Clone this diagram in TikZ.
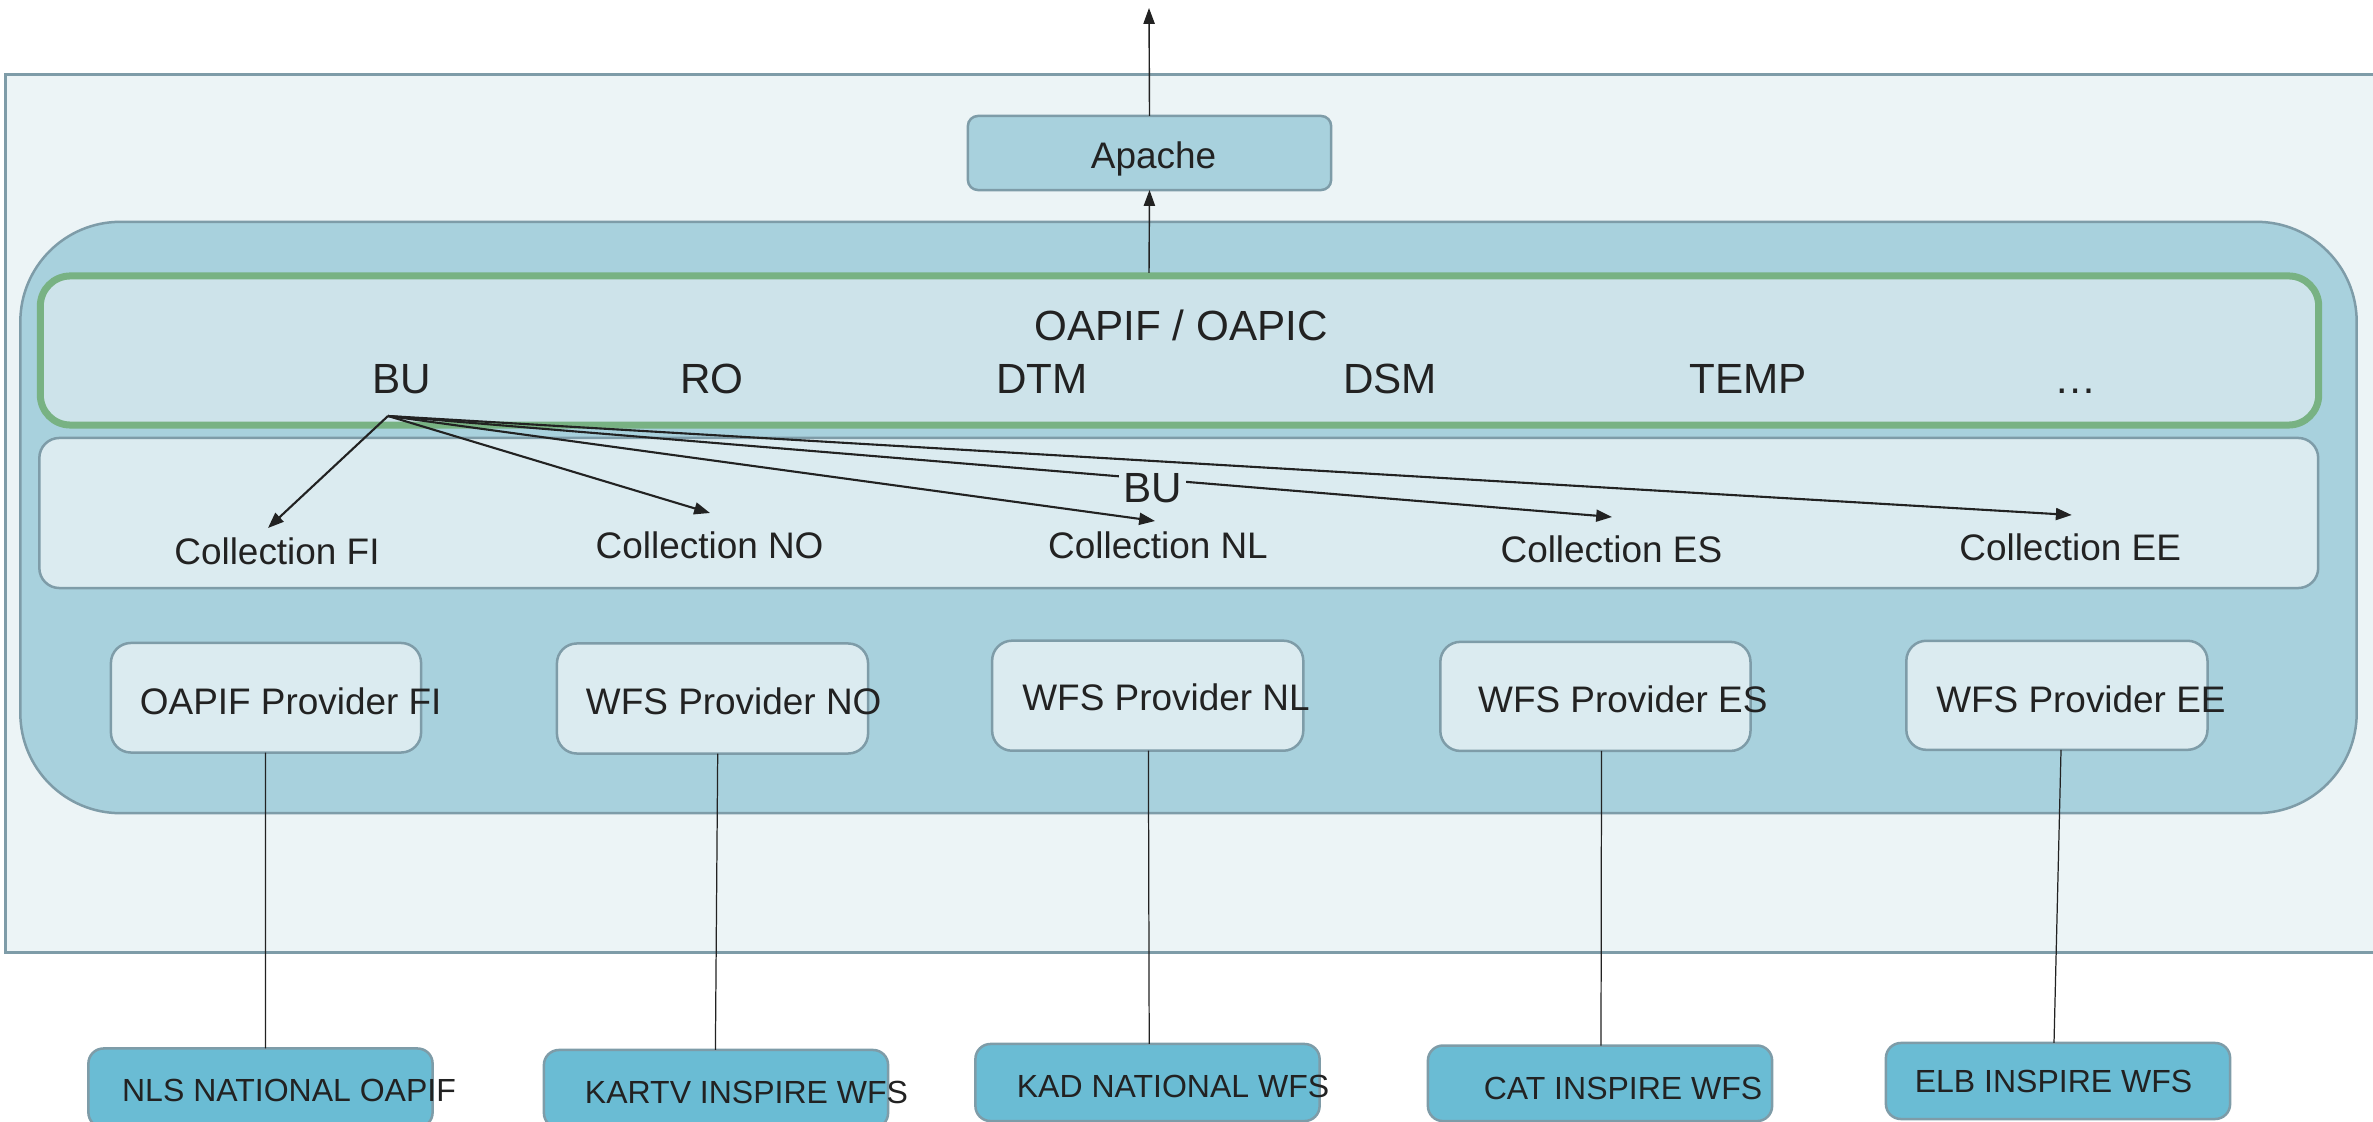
\documentclass[tikz,border=0pt]{standalone}
\usepackage{fontspec}
\setmainfont{Liberation Sans}
\usetikzlibrary{arrows.meta}
\definecolor{outerfill}{HTML}{ECF4F6}
\definecolor{bordc}{HTML}{7E9CA8}
\definecolor{midfill}{HTML}{A8D1DD}
\definecolor{greenc}{HTML}{78B283}
\definecolor{oapfill}{HTML}{CDE3EA}
\definecolor{collfill}{HTML}{DBEBF0}
\definecolor{srcfill}{HTML}{6ABCD4}
\definecolor{txt}{HTML}{222222}
\tikzset{
  cont/.style={draw=bordc, line width=0.025cm, inner sep=0, outer sep=0},
  provbox/.style={cont, fill=collfill, rounded corners=0.2cm},
  srcbox/.style={cont, fill=srcfill, rounded corners=0.15cm, minimum width=3.44cm},
  lbl/.style={inner sep=0, anchor=base, text=txt},
  big/.style={lbl, font=\fontsize{12}{14}\selectfont},
  mid/.style={lbl, font=\fontsize{10.5}{12.5}\selectfont},
  small/.style={lbl, font=\fontsize{9.1}{11}\selectfont},
  buarrow/.style={draw=txt, line width=0.6pt, -{Triangle[length=4.5pt,width=3.4pt]}},
  toparrow/.style={draw=txt, line width=0.4pt, -{Triangle[length=4.5pt,width=3.2pt]}},
  link/.style={draw=txt, line width=0.35pt}
}
\begin{document}
\begin{tikzpicture}[x=0.01cm,y=-0.01cm]
\path[use as bounding box] (0,0) rectangle (2373,1122);

% outer container
\node[cont, fill=outerfill, minimum width=23.84cm, minimum height=8.77cm] (outer) at (1198,513.5) {};
% server container
\node[cont, fill=midfill, rounded corners=1cm, minimum width=23.35cm, minimum height=5.91cm] (server) at (1188.5,517.5) {};
% OAPIF green box
\node[draw=greenc, fill=oapfill, line width=0.07cm, rounded corners=0.3cm, minimum width=22.77cm, minimum height=1.49cm, inner sep=0] (oapif) at (1179.5,350.5) {};
% collection box
\node[cont, fill=collfill, rounded corners=0.2cm, minimum width=22.775cm, minimum height=1.50cm] (colls) at (1178.75,513) {};
% Apache
\node[cont, fill=midfill, rounded corners=0.1cm, minimum width=3.63cm, minimum height=0.74cm] (apache) at (1149.5,153) {};
\node[mid] (apachetxt) at (1153.5,168.4) {Apache};

% OAPIF texts
\node[big] (oapiftxt) at (1181,340.6) {OAPIF / OAPIC};
\node[big] (bu) at (402,394) {BU};
\node[big] (ro) at (712,394) {RO};
\node[big] (dtm) at (1042,394) {DTM};
\node[big] (dsm) at (1390,394) {DSM};
\node[big] (temp) at (1748.4,394) {TEMP};
\node[big] (more) at (2075.5,394) {…};

% collection texts
\node[mid] (cFI) at (277,564.5) {Collection FI};
\node[mid] (cNO) at (709.6,558.7) {Collection NO};
\node[mid] (cNL) at (1158,558.7) {Collection NL};
\node[mid] (cES) at (1611.4,562.6) {Collection ES};
\node[mid] (cEE) at (2070.2,560.6) {Collection EE};

% arrows from BU
\coordinate (buorigin) at (388,416);
\coordinate (tFI) at (268,528);
\coordinate (tNO) at (710,513);
\coordinate (tNL) at (1155,521);
\coordinate (tES) at (1612,517);
\coordinate (tEE) at (2071.7,515);
\draw[buarrow] (buorigin) -- (tFI);
\draw[buarrow] (buorigin) -- (tNO);
\draw[buarrow] (buorigin) -- (tNL);
\draw[buarrow] (buorigin) -- (tES);
\draw[buarrow] (buorigin) -- (tEE);
\node[big, fill=collfill, inner sep=0.04cm] (bulabel) at (1152.5,503) {BU};

% arrows to Apache and out
\coordinate (oapiftop) at (1149,273);
\coordinate (outtop) at (1149,8);
\draw[toparrow] (oapiftop) -- (apache.south);
\draw[toparrow] (apache.north) -- (outtop);

% providers
\node[provbox, minimum width=3.10cm, minimum height=1.095cm] (pFI) at (266,697.75) {};
\node[provbox, minimum width=3.11cm, minimum height=1.10cm] (pNO) at (712.5,698.5) {};
\node[provbox, minimum width=3.11cm, minimum height=1.10cm] (pNL) at (1147.7,695.7) {};
\node[provbox, minimum width=3.10cm, minimum height=1.09cm] (pES) at (1595.4,696.4) {};
\node[provbox, minimum width=3.01cm, minimum height=1.09cm] (pEE) at (2056.9,695.3) {};
\node[mid] (pFItxt) at (290.7,714.8) {OAPIF Provider FI};
\node[mid] (pNOtxt) at (733.7,714.8) {WFS Provider NO};
\node[mid] (pNLtxt) at (1166,711) {WFS Provider NL};
\node[mid] (pEStxt) at (1622.8,712) {WFS Provider ES};
\node[mid] (pEEtxt) at (2080.9,712) {WFS Provider EE};

% sources
\node[srcbox, minimum height=0.79cm] (sNLS) at (260.5,1088) {};
\node[srcbox, minimum height=0.78cm] (sKARTV) at (716,1089) {};
\node[srcbox, minimum height=0.77cm] (sKAD) at (1147.5,1082.5) {};
\node[srcbox, minimum height=0.755cm] (sCAT) at (1600,1083.3) {};
\node[srcbox, minimum height=0.76cm] (sELB) at (2058,1081) {};
\node[small] (sNLStxt) at (289,1101.7) {NLS NATIONAL OAPIF};
\node[small] (sKARTVtxt) at (746.5,1103.3) {KARTV INSPIRE WFS};
\node[small] (sKADtxt) at (1173,1097.3) {KAD NATIONAL WFS};
\node[small] (sCATtxt) at (1623,1099) {CAT INSPIRE WFS};
\node[small] (sELBtxt) at (2053.5,1092.3) {ELB INSPIRE WFS};

% links
\draw[link] ([xshift=-0.005cm]pFI.south) -- ([xshift=0.05cm]sNLS.north);
\draw[link] ([xshift=0.052cm]pNO.south) -- ([xshift=-0.006cm]sKARTV.north);
\draw[link] ([xshift=0.007cm]pNL.south) -- ([xshift=0.017cm]sKAD.north);
\draw[link] ([xshift=0.061cm]pES.south) -- ([xshift=0.01cm]sCAT.north);
\draw[link] ([xshift=0.041cm]pEE.south) -- ([xshift=-0.04cm]sELB.north);
\end{tikzpicture}
\end{document}
